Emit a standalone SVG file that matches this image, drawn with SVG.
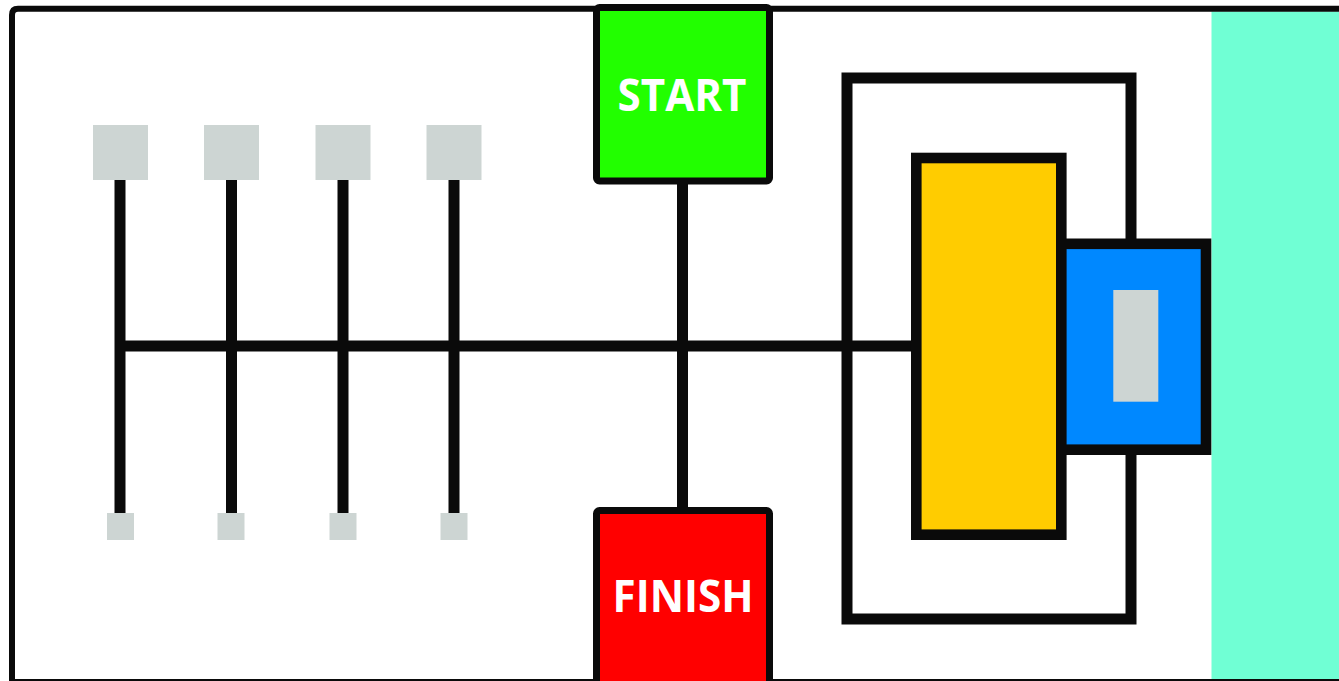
<svg xmlns="http://www.w3.org/2000/svg" width="1339" height="681" viewBox="0 0 1339 681">
  <defs>
    <style>
      .ln { stroke: #0a0a0a; fill: none; }
      .pad { fill: #cdd5d3; }
      .lbl { font-family: "Open Sans", "Liberation Sans", sans-serif; font-weight: 700; fill: #ffffff; text-anchor: middle; }
    </style>
  </defs>
  <rect x="0" y="0" width="1339" height="681" fill="#ffffff"/>

  <g id="panel">
    <rect x="1211.5" y="11.5" width="128" height="668" fill="#70ffd4"/>
  </g>

  <g id="frame">
    <path class="ln" stroke-width="6" d="M12,681 V15 Q12,8.7 18,8.7 H1339"/>
    <line class="ln" stroke-width="2" x1="12" y1="680" x2="1339" y2="680"/>
  </g>

  <g id="connectors">
    <line class="ln" stroke-width="11" x1="120" y1="180" x2="120" y2="513"/>
    <line class="ln" stroke-width="11" x1="231.5" y1="180" x2="231.5" y2="513"/>
    <line class="ln" stroke-width="11" x1="343" y1="180" x2="343" y2="513"/>
    <line class="ln" stroke-width="11" x1="454" y1="180" x2="454" y2="513"/>
    <line class="ln" stroke-width="11" x1="115" y1="346" x2="913" y2="346"/>
    <line class="ln" stroke-width="11" x1="682.5" y1="184" x2="682.5" y2="508"/>
  </g>

  <g id="top-pads">
    <rect class="pad" x="93" y="125" width="55" height="55"/>
    <rect class="pad" x="204" y="125" width="55" height="55"/>
    <rect class="pad" x="315.5" y="125" width="55" height="55"/>
    <rect class="pad" x="426.5" y="125" width="55" height="55"/>
  </g>

  <g id="bottom-pads">
    <rect class="pad" x="107" y="513" width="27" height="27"/>
    <rect class="pad" x="217.5" y="513" width="27" height="27"/>
    <rect class="pad" x="329.5" y="513" width="27" height="27"/>
    <rect class="pad" x="440.5" y="513" width="27" height="27"/>
  </g>

  <g id="start">
    <rect x="596.5" y="7.5" width="173" height="173.5" rx="3" fill="#22ff00" stroke="#0a0a0a" stroke-width="7"/>
    <text class="lbl" x="682" y="111" font-size="44" textLength="129" lengthAdjust="spacingAndGlyphs">START</text>
  </g>

  <g id="finish">
    <rect x="596.5" y="510.5" width="173" height="190" rx="3" fill="#ff0000" stroke="#0a0a0a" stroke-width="7"/>
    <text class="lbl" x="683" y="612" font-size="44" textLength="141" lengthAdjust="spacingAndGlyphs">FINISH</text>
  </g>

  <g id="housing">
    <rect class="ln" stroke-width="11" x="847" y="78" width="284" height="541"/>
  </g>

  <g id="yellow-block">
    <rect x="916.3" y="158" width="145" height="376.7" fill="#ffcc00" stroke="#0a0a0a" stroke-width="10.6"/>
  </g>

  <g id="blue-block">
    <rect x="1061.3" y="243.8" width="144.7" height="205.9" fill="#0088ff" stroke="#0a0a0a" stroke-width="10.6"/>
    <rect class="pad" x="1113.3" y="290" width="45" height="111.7"/>
  </g>
</svg>
